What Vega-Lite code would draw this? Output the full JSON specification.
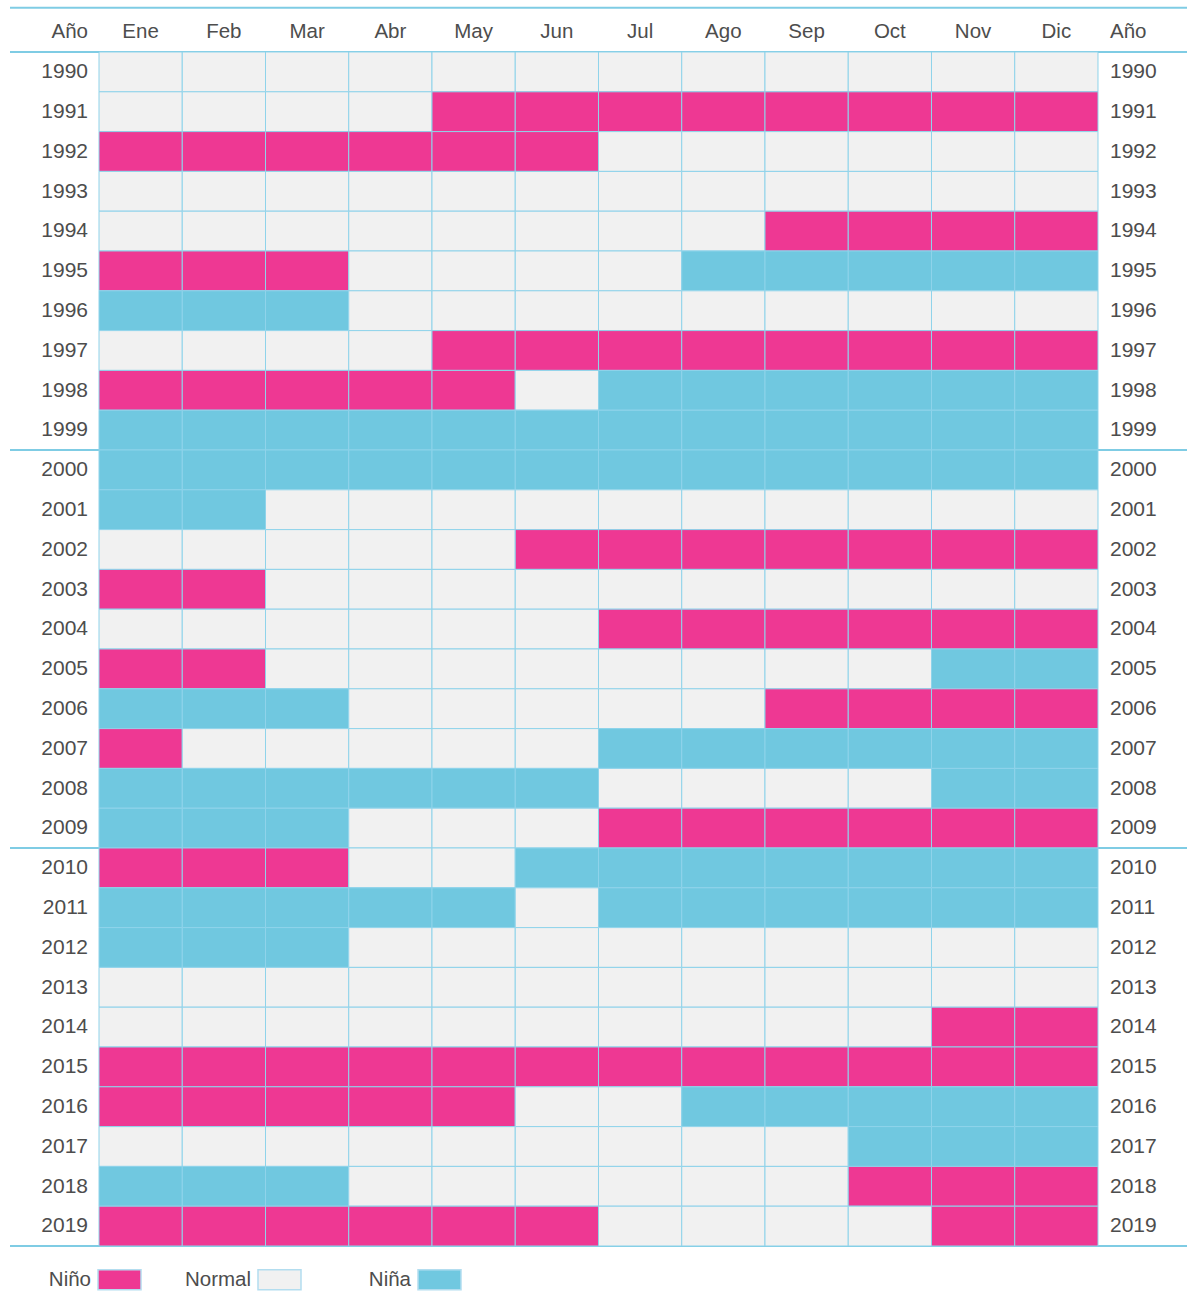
{
  "$schema": "https://vega.github.io/schema/vega-lite/v6.json",
  "width": 1187,
  "height": 1292,
  "padding": 0,
  "autosize": {"type": "none"},
  "background": "white",
  "config": {"view": {"stroke": null}, "font": "Liberation Sans"},
  "datasets": {
    "months": [
      {"mes": "Ene", "m0": 0, "m1": 1}, {"mes": "Feb", "m0": 1, "m1": 2}, {"mes": "Mar", "m0": 2, "m1": 3},
      {"mes": "Abr", "m0": 3, "m1": 4}, {"mes": "May", "m0": 4, "m1": 5}, {"mes": "Jun", "m0": 5, "m1": 6},
      {"mes": "Jul", "m0": 6, "m1": 7}, {"mes": "Ago", "m0": 7, "m1": 8}, {"mes": "Sep", "m0": 8, "m1": 9},
      {"mes": "Oct", "m0": 9, "m1": 10}, {"mes": "Nov", "m0": 10, "m1": 11}, {"mes": "Dic", "m0": 11, "m1": 12}
    ],
    "states": [
      {"c": "P", "estado": "Niño"}, {"c": "N", "estado": "Normal"}, {"c": "B", "estado": "Niña"}
    ],
    "years": [
      {"year": 1990, "next": 1991, "Ene": "N", "Feb": "N", "Mar": "N", "Abr": "N", "May": "N", "Jun": "N", "Jul": "N", "Ago": "N", "Sep": "N", "Oct": "N", "Nov": "N", "Dic": "N"},
      {"year": 1991, "next": 1992, "Ene": "N", "Feb": "N", "Mar": "N", "Abr": "N", "May": "P", "Jun": "P", "Jul": "P", "Ago": "P", "Sep": "P", "Oct": "P", "Nov": "P", "Dic": "P"},
      {"year": 1992, "next": 1993, "Ene": "P", "Feb": "P", "Mar": "P", "Abr": "P", "May": "P", "Jun": "P", "Jul": "N", "Ago": "N", "Sep": "N", "Oct": "N", "Nov": "N", "Dic": "N"},
      {"year": 1993, "next": 1994, "Ene": "N", "Feb": "N", "Mar": "N", "Abr": "N", "May": "N", "Jun": "N", "Jul": "N", "Ago": "N", "Sep": "N", "Oct": "N", "Nov": "N", "Dic": "N"},
      {"year": 1994, "next": 1995, "Ene": "N", "Feb": "N", "Mar": "N", "Abr": "N", "May": "N", "Jun": "N", "Jul": "N", "Ago": "N", "Sep": "P", "Oct": "P", "Nov": "P", "Dic": "P"},
      {"year": 1995, "next": 1996, "Ene": "P", "Feb": "P", "Mar": "P", "Abr": "N", "May": "N", "Jun": "N", "Jul": "N", "Ago": "B", "Sep": "B", "Oct": "B", "Nov": "B", "Dic": "B"},
      {"year": 1996, "next": 1997, "Ene": "B", "Feb": "B", "Mar": "B", "Abr": "N", "May": "N", "Jun": "N", "Jul": "N", "Ago": "N", "Sep": "N", "Oct": "N", "Nov": "N", "Dic": "N"},
      {"year": 1997, "next": 1998, "Ene": "N", "Feb": "N", "Mar": "N", "Abr": "N", "May": "P", "Jun": "P", "Jul": "P", "Ago": "P", "Sep": "P", "Oct": "P", "Nov": "P", "Dic": "P"},
      {"year": 1998, "next": 1999, "Ene": "P", "Feb": "P", "Mar": "P", "Abr": "P", "May": "P", "Jun": "N", "Jul": "B", "Ago": "B", "Sep": "B", "Oct": "B", "Nov": "B", "Dic": "B"},
      {"year": 1999, "next": 2000, "Ene": "B", "Feb": "B", "Mar": "B", "Abr": "B", "May": "B", "Jun": "B", "Jul": "B", "Ago": "B", "Sep": "B", "Oct": "B", "Nov": "B", "Dic": "B"},
      {"year": 2000, "next": 2001, "Ene": "B", "Feb": "B", "Mar": "B", "Abr": "B", "May": "B", "Jun": "B", "Jul": "B", "Ago": "B", "Sep": "B", "Oct": "B", "Nov": "B", "Dic": "B"},
      {"year": 2001, "next": 2002, "Ene": "B", "Feb": "B", "Mar": "N", "Abr": "N", "May": "N", "Jun": "N", "Jul": "N", "Ago": "N", "Sep": "N", "Oct": "N", "Nov": "N", "Dic": "N"},
      {"year": 2002, "next": 2003, "Ene": "N", "Feb": "N", "Mar": "N", "Abr": "N", "May": "N", "Jun": "P", "Jul": "P", "Ago": "P", "Sep": "P", "Oct": "P", "Nov": "P", "Dic": "P"},
      {"year": 2003, "next": 2004, "Ene": "P", "Feb": "P", "Mar": "N", "Abr": "N", "May": "N", "Jun": "N", "Jul": "N", "Ago": "N", "Sep": "N", "Oct": "N", "Nov": "N", "Dic": "N"},
      {"year": 2004, "next": 2005, "Ene": "N", "Feb": "N", "Mar": "N", "Abr": "N", "May": "N", "Jun": "N", "Jul": "P", "Ago": "P", "Sep": "P", "Oct": "P", "Nov": "P", "Dic": "P"},
      {"year": 2005, "next": 2006, "Ene": "P", "Feb": "P", "Mar": "N", "Abr": "N", "May": "N", "Jun": "N", "Jul": "N", "Ago": "N", "Sep": "N", "Oct": "N", "Nov": "B", "Dic": "B"},
      {"year": 2006, "next": 2007, "Ene": "B", "Feb": "B", "Mar": "B", "Abr": "N", "May": "N", "Jun": "N", "Jul": "N", "Ago": "N", "Sep": "P", "Oct": "P", "Nov": "P", "Dic": "P"},
      {"year": 2007, "next": 2008, "Ene": "P", "Feb": "N", "Mar": "N", "Abr": "N", "May": "N", "Jun": "N", "Jul": "B", "Ago": "B", "Sep": "B", "Oct": "B", "Nov": "B", "Dic": "B"},
      {"year": 2008, "next": 2009, "Ene": "B", "Feb": "B", "Mar": "B", "Abr": "B", "May": "B", "Jun": "B", "Jul": "N", "Ago": "N", "Sep": "N", "Oct": "N", "Nov": "B", "Dic": "B"},
      {"year": 2009, "next": 2010, "Ene": "B", "Feb": "B", "Mar": "B", "Abr": "N", "May": "N", "Jun": "N", "Jul": "P", "Ago": "P", "Sep": "P", "Oct": "P", "Nov": "P", "Dic": "P"},
      {"year": 2010, "next": 2011, "Ene": "P", "Feb": "P", "Mar": "P", "Abr": "N", "May": "N", "Jun": "B", "Jul": "B", "Ago": "B", "Sep": "B", "Oct": "B", "Nov": "B", "Dic": "B"},
      {"year": 2011, "next": 2012, "Ene": "B", "Feb": "B", "Mar": "B", "Abr": "B", "May": "B", "Jun": "N", "Jul": "B", "Ago": "B", "Sep": "B", "Oct": "B", "Nov": "B", "Dic": "B"},
      {"year": 2012, "next": 2013, "Ene": "B", "Feb": "B", "Mar": "B", "Abr": "N", "May": "N", "Jun": "N", "Jul": "N", "Ago": "N", "Sep": "N", "Oct": "N", "Nov": "N", "Dic": "N"},
      {"year": 2013, "next": 2014, "Ene": "N", "Feb": "N", "Mar": "N", "Abr": "N", "May": "N", "Jun": "N", "Jul": "N", "Ago": "N", "Sep": "N", "Oct": "N", "Nov": "N", "Dic": "N"},
      {"year": 2014, "next": 2015, "Ene": "N", "Feb": "N", "Mar": "N", "Abr": "N", "May": "N", "Jun": "N", "Jul": "N", "Ago": "N", "Sep": "N", "Oct": "N", "Nov": "P", "Dic": "P"},
      {"year": 2015, "next": 2016, "Ene": "P", "Feb": "P", "Mar": "P", "Abr": "P", "May": "P", "Jun": "P", "Jul": "P", "Ago": "P", "Sep": "P", "Oct": "P", "Nov": "P", "Dic": "P"},
      {"year": 2016, "next": 2017, "Ene": "P", "Feb": "P", "Mar": "P", "Abr": "P", "May": "P", "Jun": "N", "Jul": "N", "Ago": "B", "Sep": "B", "Oct": "B", "Nov": "B", "Dic": "B"},
      {"year": 2017, "next": 2018, "Ene": "N", "Feb": "N", "Mar": "N", "Abr": "N", "May": "N", "Jun": "N", "Jul": "N", "Ago": "N", "Sep": "N", "Oct": "B", "Nov": "B", "Dic": "B"},
      {"year": 2018, "next": 2019, "Ene": "B", "Feb": "B", "Mar": "B", "Abr": "N", "May": "N", "Jun": "N", "Jul": "N", "Ago": "N", "Sep": "N", "Oct": "P", "Nov": "P", "Dic": "P"},
      {"year": 2019, "next": 2020, "Ene": "P", "Feb": "P", "Mar": "P", "Abr": "P", "May": "P", "Jun": "P", "Jul": "N", "Ago": "N", "Sep": "N", "Oct": "N", "Nov": "P", "Dic": "P"}
    ],
    "decades": [{"at": 1990}, {"at": 2000}, {"at": 2010}, {"at": 2020}]
  },
  "layer": [
    {
      "data": {"name": "decades"},
      "mark": {"type": "rule", "color": "#7fcce4", "strokeWidth": 2},
      "encoding": {
        "x": {"datum": -1.069, "type": "quantitative", "scale": {"domain": [-1.1892, 13.0691], "nice": false, "zero": false}, "axis": null},
        "x2": {"datum": 13.0691},
        "y": {"field": "at", "type": "quantitative", "scale": {"domain": [1988.6935, 2021.1558], "reverse": true, "nice": false, "zero": false}, "axis": null}
      }
    },
    {
      "data": {"values": [{}]},
      "mark": {"type": "rule", "color": "#7fcce4", "strokeWidth": 2},
      "encoding": {
        "x": {"datum": -1.069, "type": "quantitative"},
        "x2": {"datum": 13.0691},
        "y": {"datum": 1988.89, "type": "quantitative"}
      }
    },
    {
      "data": {"name": "years"},
      "transform": [
        {"fold": ["Ene", "Feb", "Mar", "Abr", "May", "Jun", "Jul", "Ago", "Sep", "Oct", "Nov", "Dic"], "as": ["mes", "c"]},
        {"lookup": "mes", "from": {"data": {"name": "months"}, "key": "mes", "fields": ["m0", "m1"]}},
        {"lookup": "c", "from": {"data": {"name": "states"}, "key": "c", "fields": ["estado"]}}
      ],
      "mark": {"type": "rect", "stroke": "#8fd3ea", "strokeWidth": 1},
      "encoding": {
        "x": {"field": "m0", "type": "quantitative"},
        "x2": {"field": "m1"},
        "y": {"field": "year", "type": "quantitative"},
        "y2": {"field": "next"},
        "fill": {
          "field": "estado", "type": "nominal",
          "scale": {"domain": ["Niño", "Normal", "Niña"], "range": ["#ee3893", "#f1f1f1", "#70c8e0"]},
          "legend": {
            "orient": "none", "legendX": 97, "legendY": 1257,
            "direction": "horizontal", "columns": 3, "gridAlign": "all", "columnPadding": 40,
            "title": null,
            "symbolType": "M-1,-0.465H1V0.465H-1Z", "symbolSize": 1849,
            "symbolStrokeColor": "#b3ddef", "symbolStrokeWidth": 1.5, "symbolOpacity": 1,
            "labelAlign": "right", "labelOffset": -51,
            "labelFont": "Liberation Sans", "labelFontSize": 20.5, "labelColor": "#4d4d4d",
            "encode": {
              "symbols": {
                "update": {
                  "fill": {"signal": "datum.value === 'Niña' ? '#45bcd8' : datum.value === 'Niño' ? '#ee3893' : '#f1f1f1'"},
                  "stroke": {"value": "#b3ddef"},
                  "strokeWidth": {"value": 1.5}
                }
              }
            }
          }
        }
      }
    },
    {
      "data": {"name": "months"},
      "mark": {"type": "text", "fontSize": 20.5, "color": "#4d4d4d", "align": "center", "baseline": "middle", "dx": 41.6},
      "encoding": {
        "x": {"field": "m0", "type": "quantitative"},
        "y": {"datum": 1989.5, "type": "quantitative"},
        "text": {"field": "mes"}
      }
    },
    {
      "data": {"values": [{"t": "Año"}]},
      "mark": {"type": "text", "fontSize": 20.5, "color": "#4d4d4d", "align": "right", "baseline": "middle"},
      "encoding": {
        "x": {"datum": -0.1321, "type": "quantitative"},
        "y": {"datum": 1989.5, "type": "quantitative"},
        "text": {"field": "t"}
      }
    },
    {
      "data": {"values": [{"t": "Año"}]},
      "mark": {"type": "text", "fontSize": 20.5, "color": "#4d4d4d", "align": "left", "baseline": "middle"},
      "encoding": {
        "x": {"datum": 12.144, "type": "quantitative"},
        "y": {"datum": 1989.5, "type": "quantitative"},
        "text": {"field": "t"}
      }
    },
    {
      "data": {"name": "years"},
      "mark": {"type": "text", "fontSize": 21, "color": "#4d4d4d", "align": "right", "baseline": "middle", "dy": 20.2},
      "encoding": {
        "x": {"datum": -0.1321, "type": "quantitative"},
        "y": {"field": "year", "type": "quantitative"},
        "text": {"field": "year", "type": "nominal"}
      }
    },
    {
      "data": {"name": "years"},
      "mark": {"type": "text", "fontSize": 21, "color": "#4d4d4d", "align": "left", "baseline": "middle", "dy": 20.2},
      "encoding": {
        "x": {"datum": 12.144, "type": "quantitative"},
        "y": {"field": "year", "type": "quantitative"},
        "text": {"field": "year", "type": "nominal"}
      }
    }
  ]
}
